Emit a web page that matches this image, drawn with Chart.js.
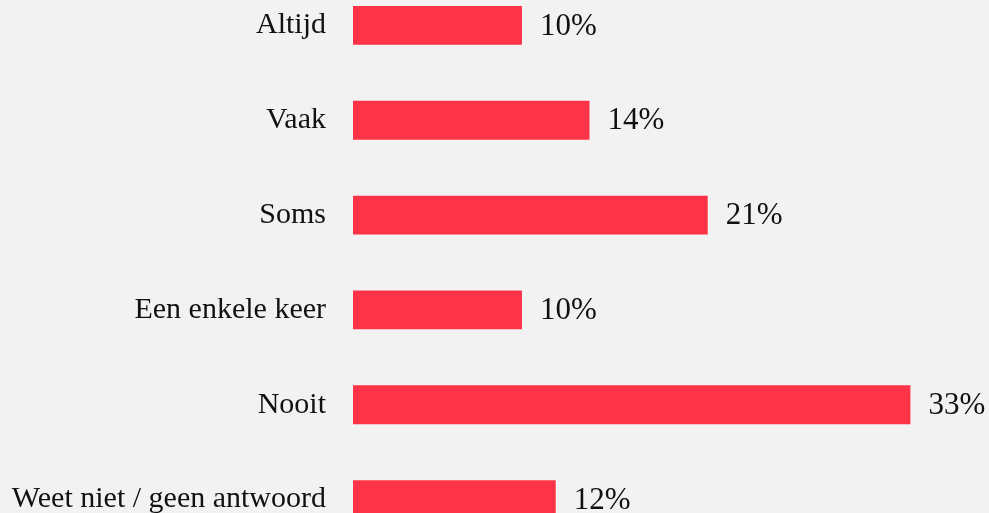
<!DOCTYPE html>
<html>
<head>
<meta charset="utf-8">
<script src="https://cdn.jsdelivr.net/npm/chart.js@4/dist/chart.umd.min.js"></script>
<style>
  html, body { margin: 0; padding: 0; background: #f2f2f2; overflow: hidden; }
  #wrap { position: absolute; left: 0; top: -22px; width: 989px; height: 569px; }
</style>
</head>
<body>
<div id="wrap"><canvas id="chart"></canvas></div>
<script>
// Answer categories and share of respondents (%)
const answers = ['Altijd', 'Vaak', 'Soms', 'Een enkele keer', 'Nooit', 'Weet niet / geen antwoord'];
const shares = [10, 14, 21, 10, 33, 12];

const barColor = '#ff3347';
const labelFont = { family: '"Liberation Serif", serif', size: 30 };
const valueFont = { family: '"Liberation Serif", serif', size: 31 };

// writes "xx%" right of each bar
const valueLabels = {
  id: 'valueLabels',
  afterDatasetsDraw(chart) {
    const ctx = chart.ctx;
    const meta = chart.getDatasetMeta(0);
    ctx.save();
    ctx.font = valueFont.size + 'px ' + valueFont.family;
    ctx.fillStyle = '#111';
    ctx.textAlign = 'left';
    ctx.textBaseline = 'middle';
    meta.data.forEach((bar, i) => {
      ctx.fillText(shares[i] + '%', bar.x + 18, bar.y + 1);
    });
    ctx.restore();
  }
};

new Chart(document.getElementById('chart'), {
  type: 'bar',
  data: {
    labels: answers,
    datasets: [{
      data: shares,
      backgroundColor: barColor,
      borderWidth: 0,
      barPercentage: 1,
      categoryPercentage: 0.41
    }]
  },
  options: {
    indexAxis: 'y',
    responsive: true,
    maintainAspectRatio: false,
    animation: false,
    layout: { padding: { left: 0, right: 11, top: 0, bottom: 0 } },
    plugins: {
      legend: { display: false },
      tooltip: { enabled: false }
    },
    scales: {
      x: {
        display: false,
        min: 0,
        max: 37
      },
      y: {
        grid: { display: false, drawTicks: false },
        border: { display: false },
        ticks: {
          color: '#111',
          font: labelFont,
          padding: 27
        },
        afterFit(scale) {
          scale.width = 353;
          // keep the label padding from shrinking the plot vertically
          scale.paddingTop = 0;
          scale.paddingBottom = 0;
        }
      }
    }
  },
  plugins: [valueLabels]
});
</script>
</body>
</html>
